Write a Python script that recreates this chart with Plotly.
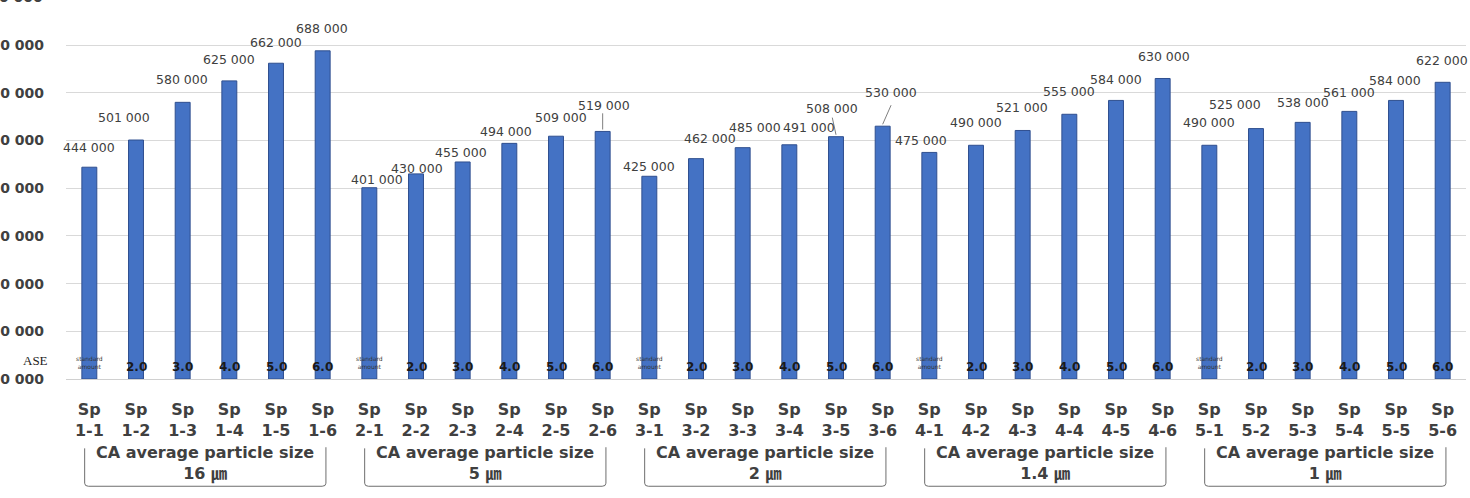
import plotly.graph_objects as go

# ---------------- data ----------------
sample_labels = [f"Sp<br>{g}-{k}" for g in range(1, 6) for k in range(1, 7)]
values = [444000, 501000, 580000, 625000, 662000, 688000,
          401000, 430000, 455000, 494000, 509000, 519000,
          425000, 462000, 485000, 491000, 508000, 530000,
          475000, 490000, 521000, 555000, 584000, 630000,
          490000, 525000, 538000, 561000, 584000, 622000]
amount_labels = ["standard<br>amount", "2.0", "3.0", "4.0", "5.0", "6.0"] * 5
group_labels = ["CA average particle size<br>16 ㎛",
                "CA average particle size<br>5 ㎛",
                "CA average particle size<br>2 ㎛",
                "CA average particle size<br>1.4 ㎛",
                "CA average particle size<br>1 ㎛"]
y_tick_values = [0, 100000, 200000, 300000, 400000, 500000, 600000, 700000, 800000]
y_tick_labels = ["0 000"] * 9

# ---------------- styling (label offsets in px) ----------------
label_dx = [0, -12, -1, 0, 0, -1,
            8, 1, -2, -3, 5, 1,
            0, 14, 12, 20, -4, 8,
            -8, 0, -1, 0, 0, 1,
            0, -21, 0, 0, -1, -1]
label_dy = [20, 23, 23, 21, 21, 22,
            8, 5, 9, 12, 19, 26,
            10, 20, 20, 17, 28, 34,
            12, 23, 23, 23, 21, 22,
            23, 24, 20, 19, 20, 22]

FONT = "DejaVu Sans"
TXT = "#404040"
x = list(range(len(values)))

fig = go.Figure()
fig.add_trace(go.Bar(
    x=x, y=values, width=0.32,
    marker=dict(color="#4472C4", line=dict(color="#2F4F8F", width=1)),
    hoverinfo="skip",
))

annotations = []
for i, v in enumerate(values):
    annotations.append(dict(
        x=i, y=v, xref="x", yref="y", text=f"{v//1000} 000",
        showarrow=False, xshift=label_dx[i], yshift=label_dy[i],
        yanchor="middle", xanchor="center",
        font=dict(family=FONT, size=12.5, color=TXT)))
    a = amount_labels[i]
    if "standard" in a:
        annotations.append(dict(
            x=i, y=0, xref="x", yref="y", text=a, showarrow=False,
            yshift=17, yanchor="middle",
            font=dict(family=FONT, size=6, color="#333333")))
    else:
        annotations.append(dict(
            x=i, y=0, xref="x", yref="y", text=f"<b>{a}</b>", showarrow=False,
            yshift=12, yanchor="middle",
            font=dict(family=FONT, size=12, color="#1a1a1a")))

annotations.append(dict(x=-0.5, y=0, xref="x", yref="y", text="ASE",
                        showarrow=False, xshift=-16, yshift=19, xanchor="right",
                        yanchor="middle",
                        font=dict(family="Liberation Serif", size=13, color="#222222")))
# top tick label, cut by the page edge as in the reference
annotations.append(dict(x=0, y=1, xref="paper", yref="paper", text=y_tick_labels[-1],
                        showarrow=False, xshift=-21, yshift=3, xanchor="right", yanchor="middle",
                        font=dict(family=FONT, size=14, color=TXT, weight="bold")))

shapes = []
for g, gl in enumerate(group_labels):
    left = 6 * g - 0.1
    right = 6 * g + 5 + 0.07
    annotations.append(dict(
        x=6 * g + 2.48, y=-0.224, xref="x", yref="paper", text=gl,
        showarrow=False, yanchor="middle", xanchor="center",
        font=dict(family=FONT + ", Noto Sans CJK KR", size=16, color=TXT, weight="bold")))
    shapes.append(dict(
        type="path", xref="x", yref="paper",
        path=f"M {left},-0.183 L {left},-0.275 Q {left},-0.283 {left+0.08},-0.283 "
             f"L {right-0.08},-0.283 Q {right},-0.283 {right},-0.275 L {right},-0.18",
        line=dict(color="#6e6e6e", width=1)))

# leader lines for a few labels
for i, top_off, dxs in [(11, 38000, 0), (16, 40000, -0.08), (17, 44000, 0.18)]:
    v = values[i]
    shapes.append(dict(type="line", xref="x", yref="y",
                       x0=i, y0=v + 4000, x1=i + dxs, y1=v + top_off,
                       line=dict(color="#7f7f7f", width=1)))

fig.update_layout(
    width=1470, height=498,
    margin=dict(l=66, r=4, t=0, b=119),
    plot_bgcolor="white", paper_bgcolor="white",
    showlegend=False,
    annotations=annotations, shapes=shapes,
    xaxis=dict(range=[-0.5, len(values) - 0.5], tickvals=x, ticktext=sample_labels,
               showgrid=False, zeroline=False, showline=False, ticks="",
               ticklabelstandoff=19,
               tickfont=dict(family=FONT, size=16, color=TXT, weight="bold")),
    yaxis=dict(range=[0, 794550], tickvals=y_tick_values[:-1], ticktext=y_tick_labels[:-1],
               showgrid=True, gridcolor="#d9d9d9", gridwidth=1,
               zeroline=True, zerolinecolor="#d0d0d0", zerolinewidth=1,
               showline=False, ticks="", ticklabelstandoff=21,
               tickfont=dict(family=FONT, size=14, color=TXT, weight="bold")),
)

fig.write_html("out.html")
